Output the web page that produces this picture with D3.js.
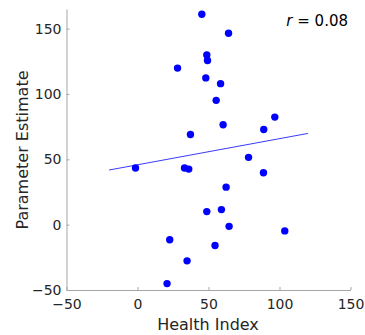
<!DOCTYPE html>
<html><head><meta charset="utf-8">
<script src="https://cdn.jsdelivr.net/npm/d3@7"></script>
<style>body{margin:0;background:#fff}svg{display:block}text{font-family:"DejaVu Sans",sans-serif}</style>
</head><body>
<script>
const healthIndex = [45.3, 64.1, 48.8, 49.3, 28.2, 48.1, 58.5, 55.4, 96.7, 88.9, 60.3, 37.3, -1.4, 33.1, 36.1, 78.2, 88.7, 62.4, 48.8, 59.1, 64.5, 103.7, 22.7, 54.6, 34.9, 20.8];
const paramEstimate = [161, 146.4, 129.8, 125.6, 119.8, 112.3, 107.9, 95.1, 82.3, 72.8, 76.4, 69, 43.3, 43.3, 42.5, 51.5, 39.7, 28.7, 10, 11.5, -1.3, -4.8, -11.5, -15.9, -27.7, -45.1];
const fitX = [-20, 120];
const fitY = [41.8, 69.8];
const xTicks = [-50, 0, 50, 100, 150];
const yTicks = [-50, 0, 50, 100, 150];
const rLabel = "0.08";

const W = 365, H = 335;
const svg = d3.select("body").append("svg").attr("width", W).attr("height", H);
const x = d3.scaleLinear().domain([-50, 150]).range([66.5, 350.5]);
const y = d3.scaleLinear().domain([-50, 165]).range([290, 9]);

const axisColor = "#a6a6a6", textColor = "#262626";

const xAxis = svg.append("g").attr("transform", "translate(0,290)")
  .call(d3.axisBottom(x).tickValues(xTicks).tickSize(-3).tickPadding(6).tickSizeOuter(0));
const yAxis = svg.append("g").attr("transform", "translate(66.5,0)")
  .call(d3.axisLeft(y).tickValues(yTicks).tickSize(-3).tickPadding(5).tickSizeOuter(0));
[xAxis, yAxis].forEach(g => {
  g.select(".domain").attr("stroke", axisColor);
  g.selectAll(".tick line").attr("stroke", axisColor);
  g.selectAll(".tick text").attr("fill", textColor).style("font-size", "14px").style("font-family", "DejaVu Sans");
});
xAxis.selectAll(".tick text").attr("dy", "0.9em");

svg.append("line")
  .attr("x1", x(fitX[0])).attr("y1", y(fitY[0]))
  .attr("x2", x(fitX[1])).attr("y2", y(fitY[1]))
  .attr("stroke", "#3a3aff").attr("stroke-width", 1);

svg.append("g").selectAll("circle").data(healthIndex).join("circle")
  .attr("cx", d => x(d)).attr("cy", (d, i) => y(paramEstimate[i]))
  .attr("r", 3.7).attr("fill", "#0000ff");

svg.append("text").attr("x", 208).attr("y", 330).attr("text-anchor", "middle")
  .attr("fill", textColor).style("font-size", "16px").text("Health Index");
svg.append("text").attr("transform", "translate(28,150) rotate(-90)").attr("text-anchor", "middle")
  .attr("fill", textColor).style("font-size", "16px").text("Parameter Estimate");
const rt = svg.append("text").attr("x", 348).attr("y", 26).attr("text-anchor", "end")
  .attr("fill", "#000").style("font-size", "15px");
rt.append("tspan").style("font-style", "italic").text("r");
rt.append("tspan").text(" = " + rLabel);
</script>
</body></html>
